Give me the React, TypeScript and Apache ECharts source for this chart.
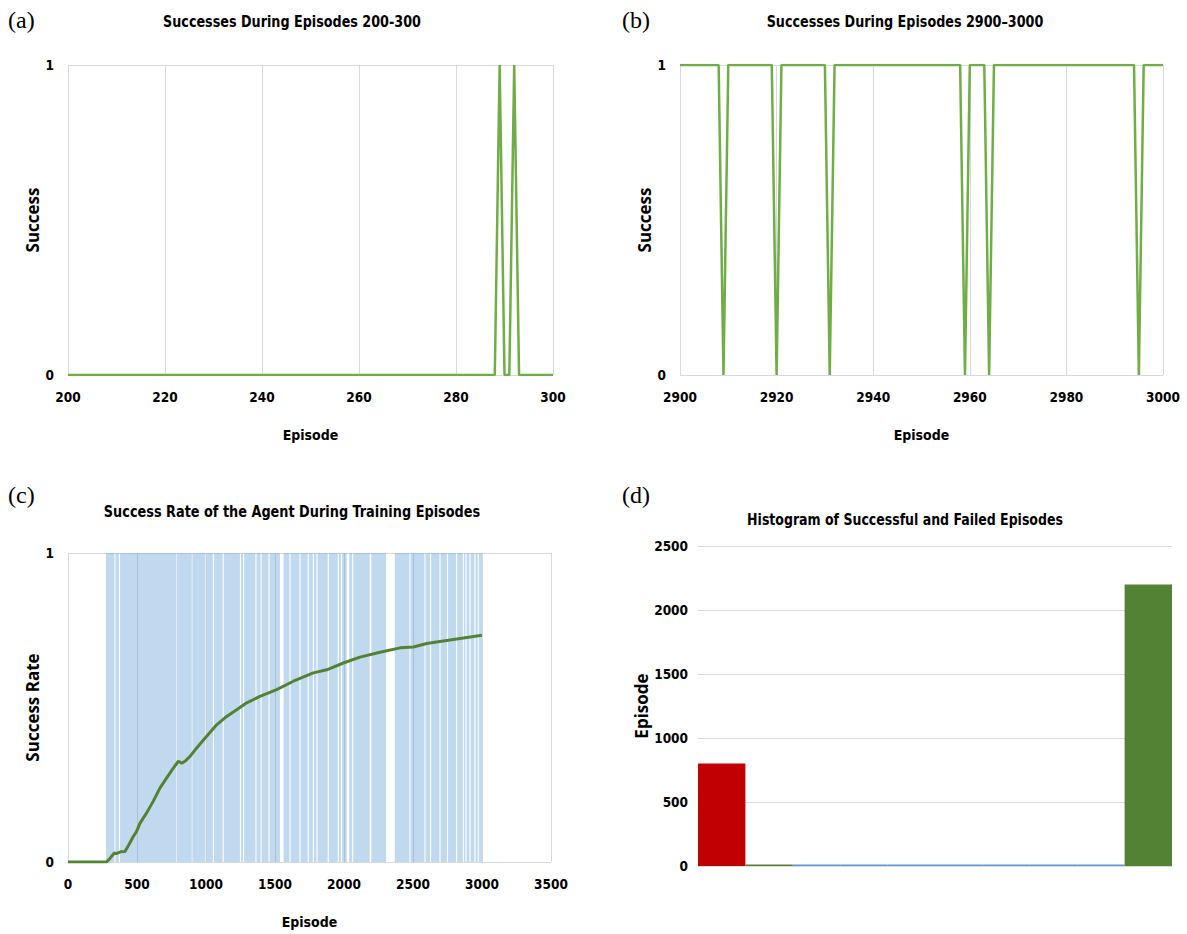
import React, { useEffect, useRef } from "react";
import * as echarts from "echarts";

// ---------- texts ----------
const panelLabels = ["(a)", "(b)", "(c)", "(d)"];
const panelTitles = [
  "Successes During Episodes 200-300",
  "Successes During Episodes 2900–3000",
  "Success Rate of the Agent During Training Episodes",
  "Histogram of Successful and Failed Episodes",
];

// ---------- (a) episodes 200-300 ----------
const rangeA = [200, 300];
const successEpisodesA = [289, 292];

// ---------- (b) episodes 2900-3000 ----------
const rangeB = [2900, 3000];
const failureEpisodesB = [2909, 2920, 2931, 2959, 2964, 2995];

// ---------- (c) success rate over training ----------
const firstSuccessBlockC = 275;
const lastEpisodeC = 3000;
// visible runs of failed episodes (white gaps in the blue success bars)
const failureGapsC = [
  [337, 344], [369, 377], [786, 790], [897, 901], [996, 1004], [1050, 1058],
  [1121, 1129], [1246, 1254], [1268, 1276], [1358, 1366], [1395, 1403],
  [1453, 1461], [1536, 1562], [1605, 1613], [1677, 1685], [1737, 1745],
  [1774, 1782], [1800, 1808], [1882, 1890], [1955, 1963], [1978, 1986],
  [2020, 2038], [2059, 2067], [2186, 2198], [2305, 2368], [2474, 2482],
  [2583, 2591], [2623, 2631], [2692, 2700], [2746, 2754], [2812, 2820],
  [2861, 2869], [2880, 2888], [2909, 2917], [2945, 2953], [2969, 2977],
];
const rateEpisodes = [
  0, 280, 300, 336, 350, 380, 413, 440, 470, 497, 522, 570, 618, 667, 715, 763,
  800, 824, 848, 884, 932, 1005, 1077, 1150, 1222, 1295, 1391, 1512, 1633,
  1778, 1875, 1995, 2116, 2261, 2406, 2503, 2599, 2744, 2865, 3000,
];
const rateValues = [
  0, 0, 0.01, 0.029, 0.027, 0.033, 0.034, 0.055, 0.08, 0.099, 0.126, 0.159,
  0.197, 0.24, 0.272, 0.304, 0.326, 0.32, 0.326, 0.342, 0.369, 0.407, 0.444,
  0.471, 0.493, 0.515, 0.536, 0.558, 0.585, 0.612, 0.622, 0.644, 0.663, 0.679,
  0.693, 0.696, 0.707, 0.717, 0.725, 0.734,
];

// ---------- (d) histogram ----------
const histBins = ["0.0", "0.1", "0.2", "0.3", "0.4", "0.5", "0.6", "0.7", "0.8", "0.9"];
const histCounts = [800, 0, 0, 0, 0, 0, 0, 0, 0, 2200];
const histColors = [
  "#c00000", "#548235", "#5b9bd5", "#5b9bd5", "#5b9bd5",
  "#5b9bd5", "#5b9bd5", "#5b9bd5", "#5b9bd5", "#548235",
];

const NARROW = "'Liberation Sans Narrow', 'DejaVu Sans Condensed', 'Roboto', sans-serif";
const WIDE = "'Open Sans', 'Noto Sans', sans-serif";
const GRID = "#d9d9d9";

function buildSeriesA() {
  const out: number[][] = [];
  for (let ep = rangeA[0]; ep <= rangeA[1]; ep++) {
    out.push([ep, successEpisodesA.includes(ep) ? 1 : 0]);
  }
  return out;
}
function buildSeriesB() {
  const out: number[][] = [];
  for (let ep = rangeB[0]; ep <= rangeB[1]; ep++) {
    out.push([ep, failureEpisodesB.includes(ep) ? 0 : 1]);
  }
  return out;
}
function buildSuccessRangesC() {
  const out: number[][] = [];
  let start = firstSuccessBlockC;
  failureGapsC.forEach((g) => {
    out.push([start, g[0]]);
    start = g[1];
  });
  out.push([start, lastEpisodeC]);
  return out;
}

const plain = (v: number) => String(v);
const tickLabel = { fontFamily: NARROW, fontWeight: "bold" as const, fontSize: 13.5, color: "#000", formatter: plain };
const xName = { fontFamily: NARROW, fontWeight: "bold" as const, fontSize: 14, color: "#000" };
const yName = { fontFamily: WIDE, fontWeight: "bold" as const, fontSize: 17, color: "#000" };

function binaryY(gridIndex: number, name: string) {
  return {
    gridIndex,
    type: "value",
    min: 0,
    max: 1,
    interval: 1,
    name,
    nameLocation: "middle",
    nameGap: 27,
    nameTextStyle: yName,
    axisLine: { show: false },
    axisTick: { show: false },
    axisLabel: { ...tickLabel, margin: 14 },
    splitLine: { lineStyle: { color: GRID, width: 1 } },
  };
}
function valueX(gridIndex: number, min: number, max: number, interval: number) {
  return {
    gridIndex,
    type: "value",
    min,
    max,
    interval,
    name: "Episode",
    nameLocation: "middle",
    nameGap: 53,
    nameTextStyle: xName,
    axisLine: { show: false },
    axisTick: { show: false },
    axisLabel: { ...tickLabel, margin: 15 },
    splitLine: { lineStyle: { color: GRID, width: 1 } },
  };
}

export default function App() {
  const ref = useRef<HTMLDivElement>(null);
  useEffect(() => {
    document.body.style.margin = "0";
    document.body.style.overflow = "hidden";
    const chart = echarts.init(ref.current!, undefined, { renderer: "svg" });
    const labelPos = [[8, 20], [622, 20], [8, 495], [622, 495]];
    const titlePos = [[292, 22], [905, 22], [292, 512], [905, 520]];
    const titleSize = [16.5, 16.5, 16.5, 15];
    const titleScale = [0.86, 0.86, 0.867, 0.93];
    const graphics: any[] = [];
    panelLabels.forEach((t, i) => {
      graphics.push({
        type: "text",
        x: labelPos[i][0],
        y: labelPos[i][1],
        style: { text: t, font: "24px 'Liberation Serif', serif", fill: "#000", align: "left", verticalAlign: "middle" },
      });
    });
    panelTitles.forEach((t, i) => {
      graphics.push({
        type: "text",
        x: titlePos[i][0],
        y: titlePos[i][1],
        scaleX: titleScale[i],
        style: {
          text: t,
          font: `bold ${titleSize[i]}px ${NARROW}`,
          fill: "#000",
          align: "center",
          verticalAlign: "middle",
        },
      });
    });

    chart.setOption({
      animation: false,
      backgroundColor: "#fff",
      graphic: graphics,
      grid: [
        { left: 68, top: 65, width: 485, height: 310 },
        { left: 680, top: 65, width: 483, height: 310 },
        { left: 68, top: 553, width: 483, height: 309 },
        { left: 698, top: 546, width: 474, height: 320 },
      ],
      xAxis: [
        valueX(0, rangeA[0], rangeA[1], 20),
        valueX(1, rangeB[0], rangeB[1], 20),
        valueX(2, 0, 3500, 500),
        {
          gridIndex: 3,
          type: "category",
          data: histBins,
          axisLine: { show: false },
          axisTick: { show: false },
          axisLabel: { show: false },
          splitLine: { show: false },
        },
      ],
      yAxis: [
        binaryY(0, "Success"),
        binaryY(1, "Success"),
        binaryY(2, "Success Rate"),
        {
          gridIndex: 3,
          type: "value",
          min: 0,
          max: 2500,
          interval: 500,
          name: "Episode",
          nameLocation: "middle",
          nameGap: 45,
          nameTextStyle: yName,
          axisLine: { show: false },
          axisTick: { show: false },
          axisLabel: { ...tickLabel, margin: 10 },
          splitLine: { lineStyle: { color: GRID, width: 1 } },
        },
      ],
      series: [
        {
          type: "line",
          xAxisIndex: 0,
          yAxisIndex: 0,
          data: buildSeriesA(),
          showSymbol: false,
          lineStyle: { color: "#70ad47", width: 2.5 },
          itemStyle: { color: "#70ad47" },
        },
        {
          type: "line",
          xAxisIndex: 1,
          yAxisIndex: 1,
          data: buildSeriesB(),
          showSymbol: false,
          lineStyle: { color: "#70ad47", width: 2.5 },
          itemStyle: { color: "#70ad47" },
        },
        {
          type: "custom",
          xAxisIndex: 2,
          yAxisIndex: 2,
          data: buildSuccessRangesC(),
          encode: { x: [0, 1] },
          silent: true,
          z: 1,
          renderItem: (params: any, api: any) => {
            const p0 = api.coord([api.value(0), 1]);
            const p1 = api.coord([api.value(1), 0]);
            return {
              type: "rect",
              shape: { x: p0[0], y: p0[1], width: p1[0] - p0[0], height: p1[1] - p0[1] },
              style: { fill: "rgba(91,155,213,0.38)" },
            };
          },
        },
        {
          type: "line",
          xAxisIndex: 2,
          yAxisIndex: 2,
          z: 3,
          data: rateEpisodes.map((e, i) => [e, rateValues[i]]),
          showSymbol: false,
          lineStyle: { color: "#548235", width: 3 },
          itemStyle: { color: "#548235" },
        },
        {
          type: "bar",
          xAxisIndex: 3,
          yAxisIndex: 3,
          barCategoryGap: "0%",
          barMinHeight: 1.5,
          data: histCounts.map((v, i) => ({ value: v, itemStyle: { color: histColors[i] } })),
        },
      ],
    });
    return () => chart.dispose();
  }, []);
  return <div ref={ref} style={{ width: 1187, height: 934 }} />;
}
